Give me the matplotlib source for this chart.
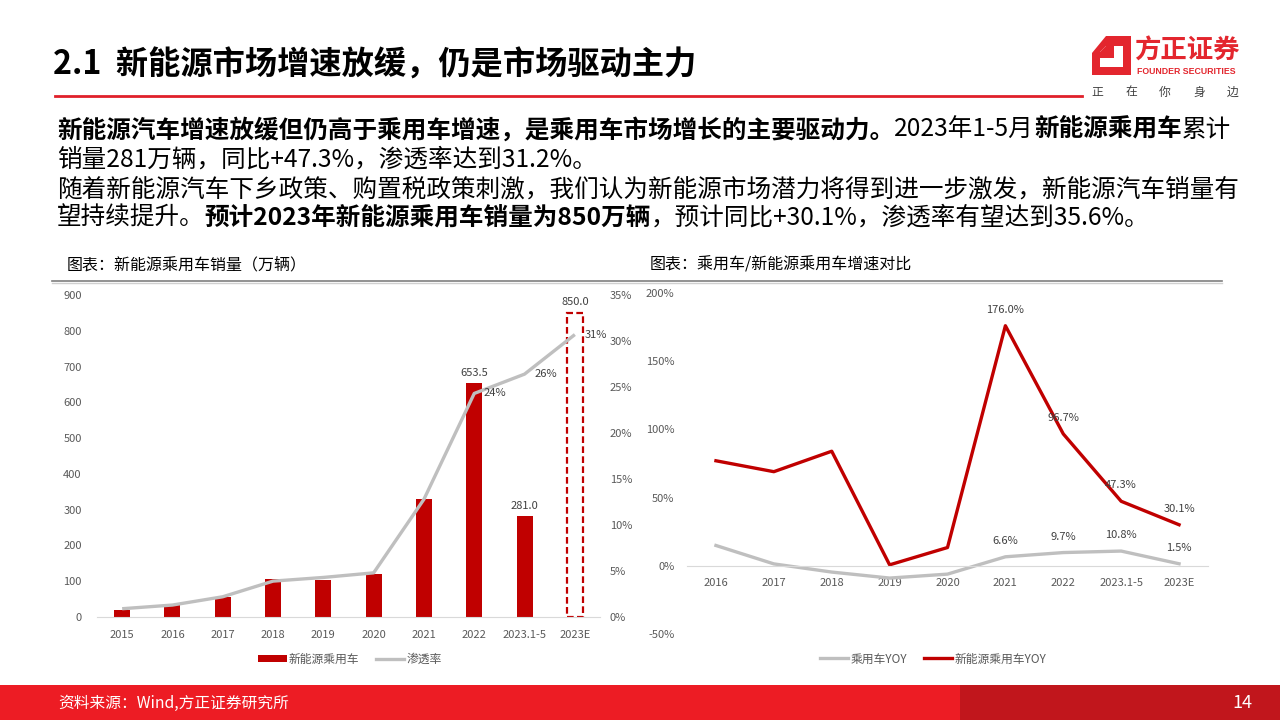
import numpy as np
import matplotlib
matplotlib.use("Agg")
import matplotlib.pyplot as plt
from matplotlib.patches import Patch, Polygon, Rectangle
from matplotlib.lines import Line2D
from matplotlib.ticker import FuncFormatter

plt.rcParams['font.family'] = ['Noto Sans CJK SC', 'DejaVu Sans']

# ---- data ----
years_left = ['2015', '2016', '2017', '2018', '2019', '2020', '2021', '2022', '2023.1-5', '2023E']
nev_sales = [20, 33, 57, 105, 104, 120, 331, 653.5, 281.0, 850.0]
penetration = [0.009, 0.013, 0.022, 0.039, 0.043, 0.048, 0.128, 0.243, 0.264, 0.307]
sales_labels = {7: '653.5', 8: '281.0', 9: '850.0'}
pen_labels = {7: '24%', 8: '26%', 9: '31%'}

years_right = ['2016', '2017', '2018', '2019', '2020', '2021', '2022', '2023.1-5', '2023E']
car_yoy = [14.9, 1.4, -4.6, -9.0, -6.1, 6.6, 9.7, 10.8, 1.5]
nev_yoy = [77.0, 69.0, 84.0, 0.7, 13.4, 176.0, 96.7, 47.3, 30.1]

RED = '#C00000'
GRAY = '#BFBFBF'
TICK = '#595959'
W, H = 1280, 720

fig = plt.figure(figsize=(12.8, 7.2), dpi=100)
fig.patch.set_facecolor('white')


def fx(px):
    return px / W


def fy(py):
    return 1 - py / H


renderer = fig.canvas.get_renderer()


def text_runs(x, y, parts, size):
    for s, bold in parts:
        t = fig.text(fx(x), fy(y), s, fontsize=size, va='center', ha='left',
                     fontweight='bold' if bold else 'normal', color='black')
        bb = t.get_window_extent(renderer)
        x += bb.width


# ---- header ----
fig.text(fx(53), fy(65), '2.1  新能源市场增速放缓，仍是市场驱动主力', fontsize=23.2,
         fontweight='bold', va='center', ha='left', color='black')
fig.add_artist(Line2D([fx(55), fx(1082)], [fy(96), fy(96)], color='#E0202A', lw=2))

# logo
logo_red = '#E3262E'
fig.add_artist(Polygon([(fx(1092), fy(53)), (fx(1106), fy(36)), (fx(1131), fy(36)),
                        (fx(1131), fy(75)), (fx(1092), fy(75))], closed=True,
                       facecolor=logo_red, edgecolor='none'))
fig.add_artist(Polygon([(fx(1100), fy(52)), (fx(1106), fy(46)), (fx(1123), fy(46)),
                        (fx(1123), fy(67)), (fx(1100), fy(67))], closed=True,
                       facecolor='white', edgecolor='none'))
fig.add_artist(Polygon([(fx(1106), fy(46)), (fx(1114), fy(46)), (fx(1114), fy(58)),
                        (fx(1100), fy(58)), (fx(1100), fy(52))], closed=True,
                       facecolor=logo_red, edgecolor='none'))
fig.text(fx(1134), fy(51), '方正证券', fontsize=19, fontweight='bold', color=logo_red,
         va='center', ha='left')
fig.text(fx(1186), fy(72), 'FOUNDER SECURITIES', fontsize=6.3, fontweight='bold',
         color=logo_red, va='center', ha='center', family='Liberation Sans')
for i, ch in enumerate('正在你身边'):
    fig.text(fx(1097 + i * 34), fy(92), ch, fontsize=8.5, color='#404040',
             va='center', ha='center')

# ---- body text ----
fs = 17.7
text_runs(57, 130, [('新能源汽车增速放缓但仍高于乘用车增速，是乘用车市场增长的主要驱动力。', True),
                    ('2023年1-5月', False), ('新能源乘用车', True), ('累计', False)], fs)
text_runs(57, 160, [('销量281万辆，同比+47.3%，渗透率达到31.2%。', False)], fs)
text_runs(57, 190, [('随着新能源汽车下乡政策、购置税政策刺激，我们认为新能源市场潜力将得到进一步激发，新能源汽车销量有', False)], fs)
text_runs(57, 218, [('望持续提升。', False), ('预计2023年新能源乘用车销量为850万辆', True),
                    ('，预计同比+30.1%，渗透率有望达到35.6%。', False)], fs)

# chart captions
fig.text(fx(67), fy(265), '图表：新能源乘用车销量（万辆）', fontsize=11.5, va='center', ha='left')
fig.text(fx(650), fy(265), '图表：乘用车/新能源乘用车增速对比', fontsize=11.5, va='center', ha='left')
fig.add_artist(Line2D([fx(52), fx(1222)], [fy(281), fy(281)], color='#7F7F7F', lw=1.2))
fig.add_artist(Line2D([fx(52), fx(1222)], [fy(283), fy(283)], color='#D0D0D0', lw=1.0))

# ---- left chart ----
ax = fig.add_axes([fx(97), fy(617), (600 - 97) / W, (617 - 295) / H])
x = np.arange(len(years_left))
bar_vals = list(nev_sales[:-1]) + [0]
ax.bar(x, bar_vals, width=0.32, color=RED, zorder=2)
ax.bar(x[-1:], nev_sales[-1:], width=0.32, fill=False, edgecolor=RED,
       linestyle=(0, (3, 1.5)), linewidth=1.6, zorder=2)
ax.set_xlim(-0.5, len(x) - 0.5)
ax.set_ylim(0, 900)
ax.set_yticks(np.arange(0, 901, 100))
ax.set_xticks(x)
ax.set_xticklabels(years_left)
ax.tick_params(axis='both', length=0, labelsize=8, colors=TICK)
ax.tick_params(axis='x', pad=9)
ax.tick_params(axis='y', pad=11)
for s in ['top', 'right', 'left']:
    ax.spines[s].set_visible(False)
ax.spines['bottom'].set_color('#D9D9D9')
for i, lab in sales_labels.items():
    ax.annotate(lab, (x[i], nev_sales[i]), xytext=(0, 4), textcoords='offset points',
                ha='center', va='bottom', fontsize=8, color='#404040')

ax2 = ax.twinx()
ax2.plot(x, penetration, color=GRAY, lw=2.4, zorder=3, solid_capstyle='butt')
ax2.set_ylim(0, 0.35)
ax2.set_yticks(np.arange(0, 0.351, 0.05))
ax2.yaxis.set_major_formatter(FuncFormatter(lambda v, p: f'{v * 100:.0f}%'))
ax2.tick_params(axis='y', length=0, labelsize=8, colors=TICK, pad=7)
for s in ['top', 'right', 'left', 'bottom']:
    ax2.spines[s].set_visible(False)
for i, lab in pen_labels.items():
    ax2.annotate(lab, (x[i], penetration[i]), xytext=(7, 0), textcoords='offset points',
                 ha='left', va='center', fontsize=8, color='#404040')

fig.legend(handles=[Patch(facecolor=RED, edgecolor='none', label='新能源乘用车'),
                    Line2D([0], [0], color=GRAY, lw=2.4, label='渗透率')],
           loc='center', bbox_to_anchor=(fx(350), fy(659)), ncol=2, frameon=False,
           fontsize=8.5, handlelength=2.4, handleheight=0.55, columnspacing=1.4,
           handletextpad=0.2, labelcolor=TICK)

# ---- right chart ----
bx = fig.add_axes([fx(687), fy(634), (1208 - 687) / W, (634 - 293) / H])
xr = np.arange(len(years_right))
bx.plot(xr, car_yoy, color=GRAY, lw=2.4, label='乘用车YOY')
bx.plot(xr, nev_yoy, color=RED, lw=2.4, label='新能源乘用车YOY')
bx.set_xlim(-0.5, len(xr) - 0.5)
bx.set_ylim(-50, 200)
bx.set_yticks(np.arange(-50, 201, 50))
bx.yaxis.set_major_formatter(FuncFormatter(lambda v, p: f'{v:.0f}%'))
bx.set_xticks(xr)
bx.set_xticklabels(years_right)
bx.spines['bottom'].set_position(('data', 0))
bx.spines['bottom'].set_color('#D9D9D9')
for s in ['top', 'right', 'left']:
    bx.spines[s].set_visible(False)
bx.tick_params(axis='both', length=0, labelsize=8, colors=TICK)
bx.tick_params(axis='x', pad=9)
bx.tick_params(axis='y', pad=9)
for i in range(5, len(xr)):
    bx.annotate(f'{nev_yoy[i]:.1f}%', (xr[i], nev_yoy[i]), xytext=(0, 11.5),
                textcoords='offset points', ha='center', va='center', fontsize=8, color='#404040')
    bx.annotate(f'{car_yoy[i]:.1f}%', (xr[i], car_yoy[i]), xytext=(0, 11.5),
                textcoords='offset points', ha='center', va='center', fontsize=8, color='#404040')

fig.legend(handles=bx.get_lines(), loc='center', bbox_to_anchor=(fx(933), fy(659)),
           ncol=2, frameon=False, fontsize=8.5, handlelength=2.4, columnspacing=1.4,
           handletextpad=0.2, labelcolor=TICK)

# ---- footer ----
band_h = fy(685)
fig.add_artist(Rectangle((0, 0), fx(960), band_h, transform=fig.transFigure,
                         facecolor='#ED1C24', edgecolor='none'))
fig.add_artist(Rectangle((fx(960), 0), 1 - fx(960), band_h, transform=fig.transFigure,
                         facecolor='#C1161C', edgecolor='none'))
fig.text(fx(58), fy(703), '资料来源：Wind,方正证券研究所', fontsize=11.3, color='white',
         va='center', ha='left')
fig.text(fx(1252), fy(703), '14', fontsize=13, color='white', va='center', ha='right')

fig.savefig('out.png', dpi=100)
